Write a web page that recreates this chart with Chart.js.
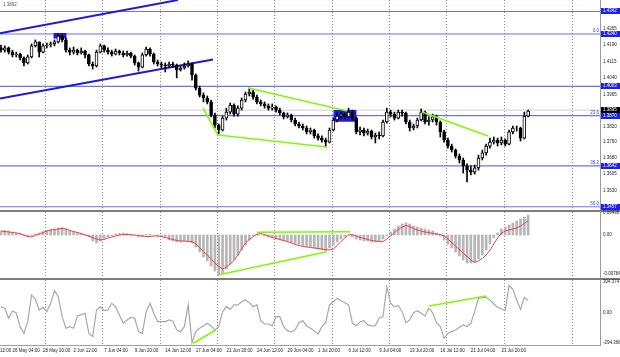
<!DOCTYPE html>
<html><head><meta charset="utf-8">
<script src="https://cdn.jsdelivr.net/npm/chart.js@4.4.0/dist/chart.umd.min.js"></script>
<style>
html,body{margin:0;padding:0;background:#fff;width:620px;height:357px;overflow:hidden;position:relative;}
canvas{position:absolute;left:0;}
</style></head><body>
<canvas id="cp" width="620" height="212" style="top:0px"></canvas>
<canvas id="cm" width="620" height="72" style="top:208px"></canvas>
<canvas id="cc" width="620" height="81" style="top:276px"></canvas>
<script>
// ---------- DATA (H8-grouped bars, index = bar number) ----------
const firstOpen = 1.4177;
const close = [
1.4167,1.4177,1.4158,1.4145,1.4149,1.4131,1.4109,1.4136,1.4186,1.4204,
1.4158,1.4186,1.4190,1.4195,1.4204,1.4231,1.4213,1.4167,1.4158,1.4167,
1.4154,1.4163,1.4145,1.4104,1.4095,1.4158,1.4186,1.4167,1.4158,1.4149,
1.4163,1.4154,1.4145,1.4154,1.4140,1.4109,1.4090,1.4145,1.4172,1.4149,
1.4113,1.4104,1.4099,1.4095,1.4104,1.4099,1.4077,1.4086,1.4095,1.4104,
1.4054,1.3995,1.3963,1.3950,1.3932,1.3873,1.3827,1.3805,1.3859,1.3886,
1.3918,1.3877,1.3904,1.3941,1.3968,1.3977,1.3954,1.3932,1.3923,1.3914,
1.3904,1.3909,1.3895,1.3882,1.3864,1.3873,1.3850,1.3832,1.3823,1.3814,
1.3796,1.3805,1.3778,1.3768,1.3759,1.3750,1.3805,1.3850,1.3868,1.3877,
1.3864,1.3886,1.3859,1.3796,1.3805,1.3791,1.3800,1.3773,1.3782,1.3778,
1.3841,1.3886,1.3877,1.3859,1.3886,1.3882,1.3841,1.3814,1.3823,1.3850,
1.3886,1.3841,1.3850,1.3864,1.3841,1.3796,1.3759,1.3732,1.3714,1.3687,
1.3669,1.3642,1.3623,1.3614,1.3633,1.3678,1.3701,1.3732,1.3750,1.3759,
1.3746,1.3759,1.3741,1.3796,1.3814,1.3814,1.3768,1.3868,1.3891];
const high = [
1.4190,1.4186,1.4181,1.4167,1.4158,1.4154,1.4136,1.4145,1.4195,1.4213,
1.4204,1.4195,1.4199,1.4204,1.4213,1.4240,1.4240,1.4222,1.4177,1.4181,
1.4172,1.4177,1.4167,1.4149,1.4113,1.4167,1.4195,1.4190,1.4177,1.4167,
1.4172,1.4167,1.4163,1.4163,1.4158,1.4145,1.4113,1.4154,1.4181,1.4177,
1.4154,1.4122,1.4113,1.4109,1.4113,1.4113,1.4104,1.4095,1.4109,1.4118,
1.4109,1.4059,1.4004,1.3973,1.3959,1.3941,1.3882,1.3832,1.3868,1.3904,
1.3927,1.3923,1.3914,1.3950,1.3977,1.3995,1.3986,1.3963,1.3941,1.3932,
1.3923,1.3923,1.3914,1.3904,1.3886,1.3882,1.3877,1.3859,1.3841,1.3832,
1.3823,1.3814,1.3809,1.3787,1.3778,1.3768,1.3814,1.3859,1.3882,1.3886,
1.3882,1.3904,1.3895,1.3864,1.3818,1.3814,1.3809,1.3805,1.3791,1.3796,
1.3850,1.3904,1.3895,1.3886,1.3895,1.3895,1.3886,1.3850,1.3832,1.3859,
1.3900,1.3891,1.3864,1.3877,1.3873,1.3846,1.3805,1.3768,1.3741,1.3719,
1.3696,1.3678,1.3651,1.3642,1.3646,1.3691,1.3714,1.3741,1.3768,1.3773,
1.3768,1.3773,1.3764,1.3805,1.3823,1.3823,1.3818,1.3886,1.3895];
const low = [
1.4158,1.4158,1.4149,1.4136,1.4136,1.4122,1.4095,1.4104,1.4131,1.4181,
1.4136,1.4154,1.4177,1.4181,1.4186,1.4199,1.4204,1.4158,1.4145,1.4149,
1.4145,1.4149,1.4131,1.4095,1.4081,1.4090,1.4154,1.4158,1.4149,1.4140,
1.4145,1.4145,1.4136,1.4140,1.4131,1.4099,1.4072,1.4086,1.4140,1.4140,
1.4104,1.4095,1.4086,1.4068,1.4090,1.4090,1.4041,1.4072,1.4081,1.4090,
1.4031,1.3986,1.3954,1.3932,1.3923,1.3864,1.3814,1.3787,1.3800,1.3850,
1.3877,1.3868,1.3868,1.3895,1.3932,1.3959,1.3945,1.3923,1.3914,1.3904,
1.3895,1.3895,1.3886,1.3873,1.3855,1.3859,1.3841,1.3823,1.3814,1.3805,
1.3787,1.3787,1.3768,1.3759,1.3750,1.3728,1.3746,1.3800,1.3841,1.3859,
1.3855,1.3859,1.3850,1.3787,1.3782,1.3778,1.3782,1.3764,1.3746,1.3764,
1.3773,1.3836,1.3864,1.3850,1.3855,1.3868,1.3832,1.3800,1.3805,1.3814,
1.3846,1.3832,1.3827,1.3841,1.3827,1.3773,1.3750,1.3723,1.3705,1.3678,
1.3655,1.3610,1.3569,1.3601,1.3605,1.3623,1.3669,1.3691,1.3723,1.3741,
1.3732,1.3737,1.3732,1.3737,1.3787,1.3800,1.3755,1.3764,1.3864];
const macdHist = [
0.0008,0.0009,0.0008,0.0006,0.0004,0.0001,-0.0002,-0.0004,-0.0002,0.0002,
0.0004,0.0007,0.0009,0.0011,0.0012,0.0014,0.0015,0.0012,0.0009,0.0007,
0.0005,0.0003,0.0001,-0.0004,-0.0012,-0.0016,-0.0012,-0.0007,-0.0004,-0.0001,
0.0002,0.0003,0.0004,0.0003,0.0002,0.0000,-0.0004,-0.0003,0.0001,0.0002,
0.0000,-0.0002,-0.0003,-0.0005,-0.0010,-0.0012,-0.0014,-0.0014,-0.0012,-0.0012,
-0.0016,-0.0024,-0.0034,-0.0044,-0.0052,-0.0062,-0.0072,-0.0080,-0.0076,-0.0068,
-0.0058,-0.0050,-0.0040,-0.0030,-0.0020,-0.0010,-0.0002,0.0002,0.0000,-0.0002,
-0.0004,-0.0006,-0.0008,-0.0010,-0.0012,-0.0013,-0.0015,-0.0017,-0.0019,-0.0021,
-0.0023,-0.0024,-0.0026,-0.0028,-0.0030,-0.0032,-0.0026,-0.0020,-0.0014,-0.0008,
-0.0003,0.0000,-0.0004,-0.0008,-0.0010,-0.0012,-0.0012,-0.0014,-0.0014,-0.0012,
-0.0008,-0.0002,0.0006,0.0012,0.0018,0.0022,0.0024,0.0022,0.0018,0.0016,
0.0014,0.0012,0.0010,0.0008,0.0004,-0.0002,-0.0010,-0.0018,-0.0026,-0.0034,
-0.0042,-0.0050,-0.0056,-0.0056,-0.0054,-0.0048,-0.0040,-0.0030,-0.0018,-0.0006,
0.0004,0.0012,0.0016,0.0020,0.0024,0.0028,0.0032,0.0036,0.0040];
const macdSignal = [
0.0008,0.0007,0.0006,0.0005,0.0004,0.0003,0.0000,-0.0003,-0.0004,-0.0001,
0.0002,0.0005,0.0008,0.0010,0.0011,0.0012,0.0013,0.0012,0.0009,0.0007,
0.0005,0.0003,0.0000,-0.0002,-0.0005,-0.0008,-0.0010,-0.0009,-0.0006,-0.0004,
-0.0002,0.0000,0.0001,0.0001,0.0000,0.0000,-0.0001,-0.0002,-0.0003,-0.0003,
-0.0002,-0.0002,-0.0003,-0.0005,-0.0007,-0.0009,-0.0011,-0.0012,-0.0012,-0.0013,
-0.0013,-0.0018,-0.0025,-0.0033,-0.0040,-0.0048,-0.0056,-0.0063,-0.0068,-0.0064,
-0.0058,-0.0051,-0.0040,-0.0028,-0.0016,-0.0009,-0.0003,0.0001,0.0003,0.0001,
-0.0002,-0.0005,-0.0007,-0.0009,-0.0011,-0.0013,-0.0016,-0.0019,-0.0021,-0.0023,
-0.0024,-0.0025,-0.0026,-0.0027,-0.0028,-0.0029,-0.0030,-0.0028,-0.0021,-0.0013,
-0.0006,0.0000,0.0001,-0.0002,-0.0005,-0.0007,-0.0009,-0.0011,-0.0012,-0.0013,
-0.0013,-0.0008,-0.0002,0.0005,0.0011,0.0016,0.0019,0.0017,0.0013,0.0010,
0.0008,0.0006,0.0005,0.0003,0.0002,0.0001,-0.0002,-0.0008,-0.0015,-0.0022,
-0.0029,-0.0036,-0.0043,-0.0050,-0.0055,-0.0052,-0.0047,-0.0040,-0.0030,-0.0018,
-0.0006,0.0004,0.0008,0.0010,0.0012,0.0014,0.0018,0.0023,0.0029];
const cci = [
62,46,-52,20,0,-134,-199,-85,177,137,
30,56,13,95,219,160,-36,-150,-134,-150,
-29,-16,-3,-199,-232,30,62,23,30,95,
62,-19,-101,-68,-42,-52,-183,-199,13,95,
-3,-85,-85,-85,-68,-81,-166,-183,-134,79,
-290,-183,-150,-127,-101,-127,-166,-134,13,62,
36,79,79,111,128,101,62,79,-75,-108,
-108,-127,-36,-36,-134,-173,-186,-166,-95,-75,
-127,-150,-173,-206,-134,-95,79,111,144,121,
101,79,-101,-127,-85,-75,-117,-127,-124,-52,
-36,258,95,62,72,13,-95,-68,3,23,
-3,-29,46,3,-95,-134,-248,-199,-183,-166,
-140,-117,-134,-101,13,144,154,154,128,88,
56,39,23,270,232,128,36,154,121];

const timeLabels = ["26 May 04:00","28 May 20:00","2 Jun 12:00","7 Jun 04:00","9 Jun 20:00","14 Jun 12:00","17 Jun 04:00","21 Jun 20:00","24 Jun 12:00","29 Jun 04:00","1 Jul 20:00","6 Jul 12:00","9 Jul 04:00","13 Jul 20:00","16 Jul 12:00","21 Jul 04:00","23 Jul 20:00"];
const timeLabelBar = [3,11,19,27,35,43,51,59,67,75,83,91,99,107,115,123,131];
const firstPartialLabel = "12:00";
const weekSeparators = [11.7,26.6,41.8,56.7,71.7,86.8,101.8,116.7,131.7,149.5];

const priceTicks = [1.4265,1.4190,1.4115,1.4040,1.3965,1.3820,1.3750,1.3680,1.3605,1.3530];
const levels = [1.4342,1.4240,1.4003,1.3870,1.3642,1.3457];
const fibLabels = ["0.0","23.6","38.2","50.0"];
const fibLevels = [1.4240,1.3870,1.3642,1.3457];
const bidPrice = 1.3895;
const topLeftText = "1.3892";
const macdTicks = [0.00438,0,-0.00784];
const macdTickLabels = ["0.00438","0.00","-0.00784"];
const cciTicks = [304.3747,0,-294.368];
const cciTickLabels = ["304.3747","0.00","-294.368"];

// trend objects: [bar, value] endpoints
const channelUpper = [[-0.26,1.4243],[46.3,1.4394]];
const channelLower = [[-0.26,1.3948],[55.5,1.4124]];
const priceGreen = [
  [[52.9,1.3904],[56.8,1.3782]],
  [[56.8,1.3782],[85.3,1.3728]],
  [[64.7,1.3995],[90.6,1.3891]],
  [[110.2,1.3886],[127.5,1.3778]]];
const blueBoxes = [[13.7,17.2,1.4220,1.4245],[87.0,93.1,1.3842,1.3895]];
const macdGreen = [[[67.0,0.00054],[91.4,0.00066]],[[56.8,-0.0080],[85.3,-0.00334]]];
const cciGreen = [[[50.3,-297],[56.3,-167]],[[112.1,69],[127.1,167]]];

// ---------- CHART SETUP ----------
const X_MIN = -0.262, X_MAX = 156.81;
const FAM = '"Liberation Sans", Arial, sans-serif';
const FONT = '4.5px ' + FAM;
const open = close.map((c,i)=> i===0 ? firstOpen : close[i-1]);

function xAxis(withLabels){
  return {
    type:'linear', min:X_MIN, max:X_MAX, offset:false,
    border:{display:false, dash:[1,2]},
    grid:{display:true, drawTicks:false, offset:false, lineWidth:1,
      color:c => (c.tick && c.tick.sep) ? '#8c8c8c' : 'rgba(0,0,0,0)'},
    ticks:{display:withLabels, autoSkip:false, maxRotation:0, minRotation:0, align:'start', padding:3,
      color:'#1e1e1e', font:{size:4.5, family:FAM}, callback:(v,i,t)=> (t[i] && t[i].lab) || ''},
    afterBuildTicks:s=>{
      const t = weekSeparators.map(v=>({value:v, sep:true}));
      if(withLabels){
        t.push({value:s.min, lab:firstPartialLabel});
        timeLabels.forEach((l,k)=>t.push({value:timeLabelBar[k], lab:l}));
      }
      t.sort((a,b)=>a.value-b.value);
      s.ticks = t;
    },
    afterFit:s=>{ s.height = withLabels ? 12 : 0; s.paddingLeft = 0; s.paddingRight = 0; }
  };
}
function yAxis(min,max,vals,labs){
  return {
    type:'linear', position:'right', min, max,
    grid:{display:false, drawTicks:false},
    border:{display:true, color:'#9a9a9a', width:1},
    ticks:{autoSkip:false, padding:3, color:'#1e1e1e', font:{size:4.5, family:FAM},
      callback:(v,i,t)=> (t[i] && t[i].lab) || ''},
    afterBuildTicks:s=>{ s.ticks = vals.map((v,k)=>({value:v, lab:labs[k]})); },
    afterFit:s=>{ s.width = 20; s.paddingTop = 0; s.paddingBottom = 0; }
  };
}
function seg(pts,color,w,order){
  return {type:'line', data:pts.map(p=>({x:p[0], y:p[1]})), borderColor:color, borderWidth:w,
    pointRadius:0, tension:0, fill:false, order};
}
const baseOpts = {responsive:false, maintainAspectRatio:false, animation:false, events:[],
  plugins:{legend:{display:false}, tooltip:{enabled:false}}};

// ---- price chart ----
const priceDecor = {
  id:'priceDecor',
  afterDraw(chart){
    const {ctx, chartArea:a} = chart; const y = chart.scales.y;
    ctx.save();
    ctx.font = FONT; ctx.textBaseline = 'middle';
    ctx.fillStyle = '#3c3cff'; ctx.textAlign = 'right';
    fibLabels.forEach((t,k)=> ctx.fillText(t, a.right-1, y.getPixelForValue(fibLevels[k]) - 3));
    ctx.textAlign = 'left';
    levels.forEach(v=>{
      const py = Math.round(y.getPixelForValue(v));
      ctx.fillStyle = '#1e1ef2'; ctx.fillRect(a.right+1, py-3, 19, 6);
      ctx.fillStyle = '#fff'; ctx.fillText(v.toFixed(4), a.right+3, py);
    });
    const pb = Math.round(y.getPixelForValue(bidPrice));
    ctx.fillStyle = '#000'; ctx.fillRect(a.right+1, pb-3, 19, 6);
    ctx.fillStyle = '#fff'; ctx.fillText(bidPrice.toFixed(4), a.right+3, pb);
    ctx.fillStyle = '#7d7d7d'; ctx.fillRect(0, a.bottom, chart.width, 2);
    ctx.fillStyle = '#555'; ctx.fillText(topLeftText, 3, 5);
    ctx.restore();
  }
};
const priceSets = [
  {type:'bar', data:high.map((h,i)=>({x:i, y:[low[i], h]})), backgroundColor:'#000', barThickness:1, grouped:false, order:5},
  {type:'bar', data:close.map((c,i)=>({x:i, y:[open[i], c]})),
    backgroundColor:close.map((c,i)=> c < open[i] ? '#000' : '#fff'), borderColor:'#000', borderWidth:1,
    borderSkipped:false, barThickness:3, grouped:false, order:4},
  ...levels.map(v=>seg([[X_MIN,v],[X_MAX,v]], '#7070f2', 1.2, 10)),
  seg([[X_MIN,bidPrice],[X_MAX,bidPrice]], '#cfcfcf', 1, 11),
  ...blueBoxes.map(b=>({type:'line', data:[{x:b[0],y:b[3]},{x:b[1],y:b[3]}], borderWidth:0, pointRadius:0,
     backgroundColor:'#1a1af0', fill:{value:b[2]}, order:9})),
  seg(channelUpper, '#1c1cd4', 2, 8),
  seg(channelLower, '#1c1cd4', 2, 8),
  ...priceGreen.map(g=>seg(g, '#7cfc00', 1.6, 1))
];
new Chart(document.getElementById('cp'), {
  type:'bar', data:{datasets:priceSets},
  options:{...baseOpts, layout:{padding:{top:0, bottom:2, left:0, right:0}},
    scales:{x:xAxis(false), y:yAxis(1.34422, 1.43941, priceTicks, priceTicks.map(v=>v.toFixed(4)))}},
  plugins:[priceDecor]
});

// ---- MACD ----
const sepDecor = {
  id:'sepDecor',
  afterDraw(chart){
    const {ctx, chartArea:a} = chart;
    ctx.save(); ctx.fillStyle = '#7d7d7d'; ctx.fillRect(0, a.bottom, chart.width, 2); ctx.restore();
  }
};
new Chart(document.getElementById('cm'), {
  type:'bar',
  data:{datasets:[
    {type:'bar', data:macdHist.map((v,i)=>({x:i, y:v})), backgroundColor:'#b6b6b6', barThickness:2, grouped:false, order:5},
    {type:'line', data:macdSignal.map((v,i)=>({x:i, y:v})), borderColor:'#f04040', borderWidth:1, pointRadius:0, tension:0, order:3},
    ...macdGreen.map(g=>seg(g, '#7cfc00', 1.6, 1))
  ]},
  options:{...baseOpts, layout:{padding:{top:4, bottom:2, left:0, right:0}},
    scales:{x:xAxis(false), y:yAxis(-0.0086, 0.0046, macdTicks, macdTickLabels)}},
  plugins:[sepDecor]
});

// ---- CCI ----
const bottomDecor = {
  id:'bottomDecor',
  afterDraw(chart){
    const {ctx, chartArea:a} = chart;
    ctx.save(); ctx.fillStyle = '#a0a0a0'; ctx.fillRect(0, a.bottom, a.right+1, 1); ctx.restore();
  }
};
new Chart(document.getElementById('cc'), {
  type:'line',
  data:{datasets:[
    {type:'line', data:cci.map((v,i)=>({x:i, y:v})), borderColor:'#a8a8a8', borderWidth:1.2, pointRadius:0, tension:0, order:3},
    ...cciGreen.map(g=>seg(g, '#7cfc00', 1.6, 1))
  ]},
  options:{...baseOpts, layout:{padding:{top:4, bottom:0, left:0, right:0}},
    scales:{x:xAxis(true), y:yAxis(-313.9, 323.7, cciTicks, cciTickLabels)}},
  plugins:[bottomDecor]
});
</script>
</body></html>
